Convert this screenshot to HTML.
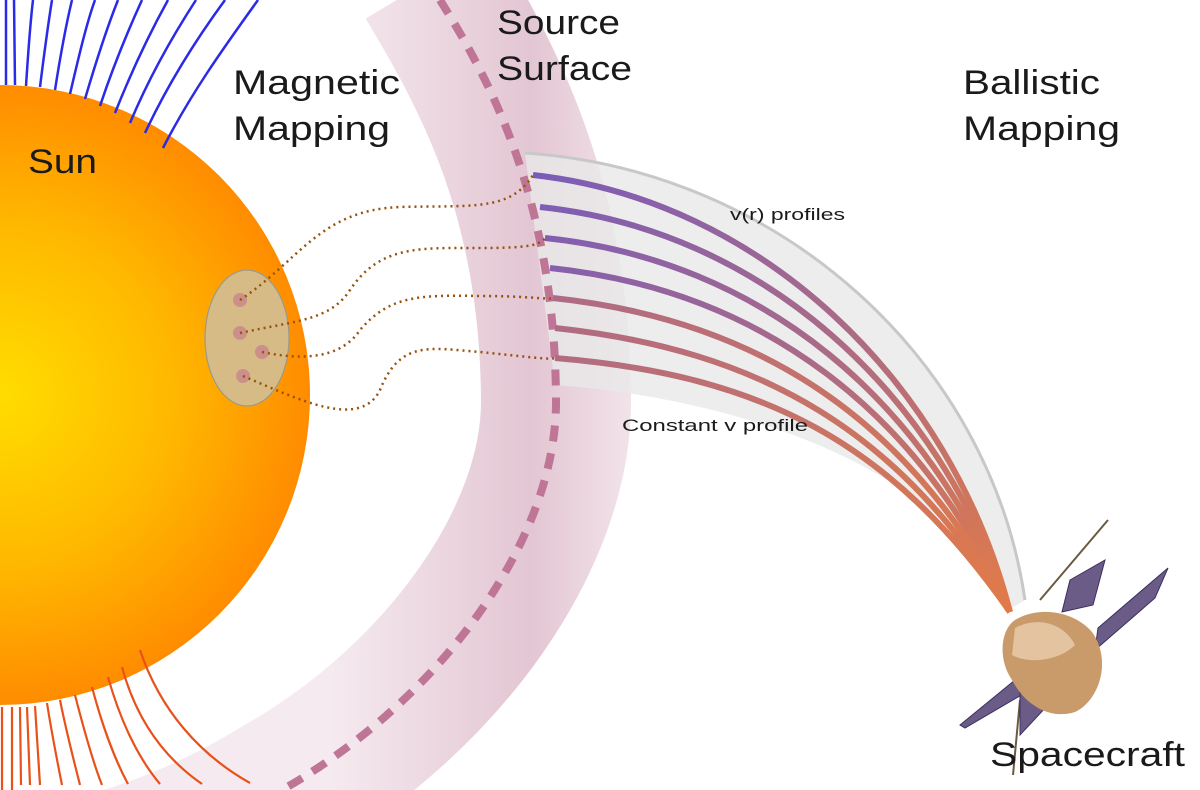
<!DOCTYPE html>
<html><head><meta charset="utf-8"><style>
html,body{margin:0;padding:0;background:#fff;width:1200px;height:790px;overflow:hidden;}
svg{display:block;overflow:hidden;}
text{font-family:"Liberation Sans",sans-serif;fill:#1a1a1a;}
</style></head><body>
<svg width="1200" height="790" viewBox="0 0 1200 790" xmlns="http://www.w3.org/2000/svg">
<defs>
<radialGradient id="sun" cx="0" cy="395" r="310" gradientUnits="userSpaceOnUse">
<stop offset="0" stop-color="#ffdd00"/><stop offset="0.55" stop-color="#ffb800"/><stop offset="1" stop-color="#ff8c00"/>
</radialGradient>
<linearGradient id="band" x1="330" y1="0" x2="640" y2="0" gradientUnits="userSpaceOnUse">
<stop offset="0" stop-color="#f5eaef"/><stop offset="0.65" stop-color="#e3c6d3"/><stop offset="1" stop-color="#f3e6ec"/>
</linearGradient>
<linearGradient id="sl" x1="540" y1="170" x2="1000" y2="610" gradientUnits="userSpaceOnUse">
<stop offset="0" stop-color="#7a5cb8"/><stop offset="0.5" stop-color="#a96a88"/><stop offset="1" stop-color="#e07a4a"/>
</linearGradient>
<linearGradient id="sl2" x1="540" y1="170" x2="1000" y2="610" gradientUnits="userSpaceOnUse">
<stop offset="0" stop-color="#a46890"/><stop offset="1" stop-color="#e07a4a"/>
</linearGradient>
</defs>

<!-- pink band -->
<path d="M430,-20 C490,80 555,200 556,400 C557,540 440,700 282,790 C200,840 120,870 40,880" fill="none" stroke="url(#band)" stroke-width="150"/>

<!-- grey envelope -->
<path d="M525,153 C780,170 990,360 1025,600 L1005,612 C960,480 760,400 555,385 Z" fill="#e9e9e9" opacity="0.8"/>
<path d="M525,153 C780,170 990,360 1025,600" fill="none" stroke="#c8c8c8" stroke-width="3"/>

<!-- dashed source surface -->
<path d="M440,0 C490,80 555,200 556,400 C557,540 440,700 282,790" fill="none" stroke="#bf7595" stroke-width="8" stroke-dasharray="16,12"/>

<!-- streamlines -->
<g fill="none" stroke-width="6">
<path d="M533,175 C760,200 950,380 1010,612" stroke="url(#sl)"/>
<path d="M540,207 C760,230 940,390 1010,612" stroke="url(#sl)"/>
<path d="M545,238 C760,260 930,400 1010,612" stroke="url(#sl)"/>
<path d="M550,268 C760,290 920,410 1010,612" stroke="url(#sl)"/>
<path d="M553,298 C760,320 910,420 1010,612" stroke="url(#sl2)"/>
<path d="M555,328 C760,350 900,430 1010,612" stroke="url(#sl2)"/>
<path d="M555,358 C760,375 890,440 1010,612" stroke="url(#sl2)"/>
</g>

<!-- sun -->
<circle cx="0" cy="395" r="310" fill="url(#sun)"/>

<!-- blue field lines -->
<g fill="none" stroke="#2a2ae8" stroke-width="2.5">
<path d="M6,85 L6,0"/><path d="M15,85 L14,0"/><path d="M26,86 C28,55 30,25 33,0"/>
<path d="M40,87 C44,55 48,25 52,0"/><path d="M55,90 C60,58 66,25 72,0"/>
<path d="M70,94 C78,60 86,25 95,0"/><path d="M85,99 C95,65 106,30 118,0"/>
<path d="M100,106 C112,70 126,35 142,0"/><path d="M115,113 C130,75 147,38 168,0"/>
<path d="M130,123 C148,80 170,40 196,0"/><path d="M145,133 C166,88 192,45 225,0"/>
<path d="M163,148 C190,95 222,50 258,0"/>
</g>
<!-- orange field lines -->
<g fill="none" stroke="#e8521a" stroke-width="2.2">
<path d="M2,707 L2,790"/><path d="M12,707 L12,790"/><path d="M20,707 L21,785"/>
<path d="M27,707 L30,785"/><path d="M35,706 L40,785"/><path d="M47,703 C52,735 58,765 62,785"/>
<path d="M60,700 C67,735 75,765 80,785"/><path d="M75,695 C84,730 94,765 102,785"/>
<path d="M92,687 C102,725 115,760 128,784"/><path d="M108,677 C120,720 138,758 160,784"/>
<path d="M122,667 C135,715 160,755 202,784"/><path d="M140,650 C160,710 200,755 250,783"/>
</g>

<!-- ellipse region -->
<ellipse cx="247" cy="338" rx="42" ry="68" fill="#d7bb86" stroke="#9a9a8a" stroke-width="1.2"/>
<g fill="#c98c8a" opacity="0.9">
<circle cx="240" cy="300" r="7"/><circle cx="240" cy="333" r="7"/><circle cx="262" cy="352" r="7"/><circle cx="243" cy="376" r="7"/>
</g>
<!-- dotted connections -->
<g fill="none" stroke="#96520f" stroke-width="2.5" stroke-dasharray="2,4">
<path d="M240,300 C300,260 320,210 400,207 C470,205 510,212 533,175"/>
<path d="M240,333 C300,320 330,320 350,290 C380,245 420,248 480,248 C530,248 540,245 545,238"/>
<path d="M262,352 C300,360 340,360 360,330 C390,295 420,295 480,296 C530,296 550,300 553,298"/>
<path d="M243,376 C300,400 360,430 380,390 C400,340 430,348 480,352 C530,357 550,360 555,358"/>
</g>

<!-- spacecraft -->
<g>
<line x1="1040" y1="600" x2="1108" y2="520" stroke="#6b5a40" stroke-width="2"/>
<line x1="1020" y1="700" x2="1013" y2="775" stroke="#6b5a40" stroke-width="2"/>
<polygon points="1070,580 1105,560 1093,605 1062,612" fill="#6a5c86" stroke="#3a3060"/>
<polygon points="1098,628 1168,568 1155,598 1095,650" fill="#6a5c86" stroke="#3a3060"/>
<polygon points="960,725 1015,680 1030,690 965,728" fill="#6a5c86" stroke="#3a3060"/>
<polygon points="1020,690 1065,668 1048,705 1020,735" fill="#6a5c86" stroke="#3a3060"/>
<path d="M1015,620 C1040,605 1075,612 1092,632 C1112,660 1100,700 1075,712 C1050,720 1025,705 1012,680 C998,660 1000,630 1015,620 Z" fill="#c99a6a"/>
<path d="M1015,628 C1040,615 1065,625 1075,645 C1060,660 1030,665 1012,655 Z" fill="#e3c3a0"/>
</g>

<!-- labels -->
<text x="28" y="173" font-size="34" textLength="69" lengthAdjust="spacingAndGlyphs">Sun</text>
<text x="233" y="94" font-size="34" textLength="167" lengthAdjust="spacingAndGlyphs">Magnetic</text>
<text x="233" y="140" font-size="34" textLength="157" lengthAdjust="spacingAndGlyphs">Mapping</text>
<text x="497" y="34" font-size="34" textLength="123" lengthAdjust="spacingAndGlyphs">Source</text>
<text x="497" y="80" font-size="34" textLength="135" lengthAdjust="spacingAndGlyphs">Surface</text>
<text x="963" y="94" font-size="34" textLength="137" lengthAdjust="spacingAndGlyphs">Ballistic</text>
<text x="963" y="140" font-size="34" textLength="157" lengthAdjust="spacingAndGlyphs">Mapping</text>
<text x="730" y="220" font-size="17" textLength="115" lengthAdjust="spacingAndGlyphs">v(r) profiles</text>
<text x="622" y="431" font-size="17" textLength="186" lengthAdjust="spacingAndGlyphs">Constant v profile</text>
<text x="990" y="766" font-size="34" textLength="195" lengthAdjust="spacingAndGlyphs">Spacecraft</text>
</svg>
</body></html>
